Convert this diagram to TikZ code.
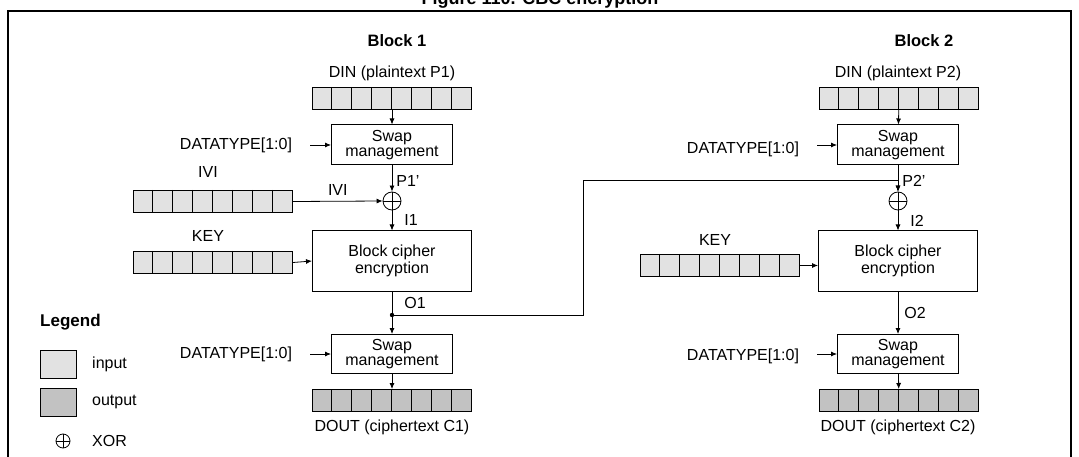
\documentclass[tikz,border=0pt]{standalone}
\usepackage{fontspec}
\setmainfont{Liberation Sans}
\usetikzlibrary{arrows.meta}
\definecolor{inc}{HTML}{E2E2E2}
\definecolor{outc}{HTML}{C2C2C2}
\newcommand{\myreg}[4]{% name, x-left, y-top, color
  \node[box,fill=#4,minimum width=159pt,minimum height=22pt,anchor=north west] (#1) at (#2,#3) {};
  \foreach \i in {1,...,7}{\draw[line width=1pt] (#2+\i*19.875,#3) -- ++(0,22);}}
\begin{document}
\begin{tikzpicture}[x=1pt,y=-1pt,font=\fontsize{16}{16}\selectfont,
  box/.style={draw,line width=1pt,align=center,inner sep=0pt},
  lbl/.style={inner sep=0pt},
  arr/.style={-{Latex[length=6pt,width=5pt]},line width=0.8pt},
  ln/.style={line width=0.8pt},
  xor/.style={circle,draw,line width=0.8pt,minimum size=18pt,inner sep=0pt,path picture={
    \draw[line width=0.8pt] (path picture bounding box.north) -- (path picture bounding box.south)
      (path picture bounding box.west) -- (path picture bounding box.east);}}]
\useasboundingbox (0,0) rectangle (1079,457);
\fill[white] (0,0) rectangle (1079,457);
\node[lbl,font=\fontsize{18}{18}\bfseries,anchor=base] (title) at (540,5) {Figure 110. CBC encryption};
\draw[line width=1.5pt] (8,470) -- (8,11) -- (1071,11) -- (1071,470);
% ---------- Block 1
\node[lbl,font=\fontsize{16.5}{16}\bfseries] (b1) at (397,41) {Block 1};
\node[lbl] (din1l) at (392,73) {DIN (plaintext P1)};
\myreg{din1}{312}{87}{inc}
\node[box,minimum width=121pt,minimum height=40pt,font=\fontsize{16}{13}\selectfont] (sw1) at (392,145) {Swap\\management};
\node[lbl] (dt1) at (236,145) {DATATYPE[1:0]};
\coordinate (dt1s) at (310,145);
\draw[arr] (dt1s) -- (sw1.west);
\draw[arr] (din1) -- (sw1);
\node[lbl] (ivil) at (208,172) {IVI};
\myreg{ivi}{133}{190}{inc}
\node[xor] (x1) at (392,201) {};
\draw[arr] (ivi.east) -- node[lbl,above=5pt]{IVI} (x1.west);
\draw[arr] (sw1) -- node[lbl,right=4pt,yshift=-2pt]{P1'} (x1.north);
\node[box,minimum width=159pt,minimum height=60pt,font=\fontsize{16}{17}\selectfont] (bc1) at (392,261) {Block cipher\\encryption};
\draw[arr] (x1.south) -- node[lbl,right=12pt]{I1} (bc1.north);
\node[lbl] (key1l) at (208,236) {KEY};
\myreg{key1}{133}{251}{inc}
\draw[arr] (key1.east) -- (bc1.west);
\coordinate (dot) at (392,315);
\fill (dot) circle (2.2pt);
\node[box,minimum width=121pt,minimum height=39pt,font=\fontsize{16}{13}\selectfont] (sw2) at (392,354) {Swap\\management};
\draw[ln] (bc1.south) -- node[lbl,right=12pt]{O1} (dot);
\draw[arr] (dot) -- (sw2.north);
\node[lbl] (dt2) at (236,354) {DATATYPE[1:0]};
\coordinate (dt2s) at (310,354);
\draw[arr] (dt2s) -- (sw2.west);
\myreg{dout1}{312}{389}{outc}
\draw[arr] (sw2) -- (dout1);
\node[lbl] (dout1l) at (392,427) {DOUT (ciphertext C1)};
% ---------- Block 2
\node[lbl,font=\fontsize{16.5}{16}\bfseries] (b2) at (924,41) {Block 2};
\node[lbl] (din2l) at (898,73) {DIN (plaintext P2)};
\myreg{din2}{819}{87}{inc}
\node[box,minimum width=121pt,minimum height=40pt,font=\fontsize{16}{13}\selectfont] (sw3) at (898,145) {Swap\\management};
\node[lbl] (dt3) at (743,149) {DATATYPE[1:0]};
\coordinate (dt3s) at (817,145);
\draw[arr] (dt3s) -- (sw3.west);
\draw[arr] (din2) -- (sw3);
\node[xor] (x2) at (898,201) {};
\draw[arr] (sw3) -- node[lbl,right=4pt,yshift=-2pt]{P2'} (x2.north);
\draw[arr] (dot) -| (583,180) -| (x2.north);
\node[box,minimum width=159pt,minimum height=60pt,font=\fontsize{16}{17}\selectfont] (bc2) at (898,261) {Block cipher\\encryption};
\draw[arr] (x2.south) -- node[lbl,right=12pt]{I2} (bc2.north);
\node[lbl] (key2l) at (715,240) {KEY};
\myreg{key2}{640}{254}{inc}
\draw[arr] (key2.east) -- (key2.east -| bc2.west);
\node[box,minimum width=121pt,minimum height=39pt,font=\fontsize{16}{13}\selectfont] (sw4) at (898,354) {Swap\\management};
\draw[arr] (bc2.south) -- node[lbl,right=6pt]{O2} (sw4.north);
\node[lbl] (dt4) at (743,356) {DATATYPE[1:0]};
\coordinate (dt4s) at (817,354);
\draw[arr] (dt4s) -- (sw4.west);
\myreg{dout2}{819}{389}{outc}
\draw[arr] (sw4) -- (dout2);
\node[lbl] (dout2l) at (898,427) {DOUT (ciphertext C2)};
% ---------- Legend
\node[lbl,font=\fontsize{17}{17}\bfseries,anchor=west] (leg) at (40,322) {Legend};
\node[box,fill=inc,minimum width=36pt,minimum height=28pt] (li) at (58,364) {};
\node[lbl,anchor=west] (lit) at (92,364) {input};
\node[box,fill=outc,minimum width=36pt,minimum height=28pt] (lo) at (58,402) {};
\node[lbl,anchor=west] (lot) at (92,402) {output};
\node[xor,minimum size=14pt] (lx) at (63,441) {};
\node[lbl,anchor=west] (lxt) at (92,441) {XOR};
\end{tikzpicture}
\end{document}
